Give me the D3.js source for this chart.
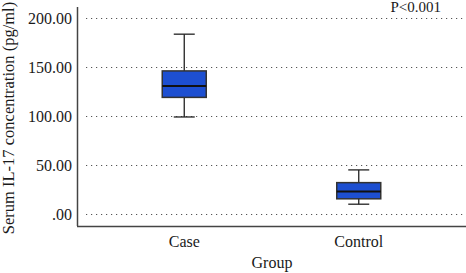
<!DOCTYPE html>
<html>
<head>
<meta charset="utf-8">
<script src="https://cdn.jsdelivr.net/npm/d3@7"></script>
<style>
  body { margin: 0; background: #fff; }
  svg text { font-family: "Liberation Serif", "DejaVu Serif", serif; fill: #1a1a1a; }
</style>
</head>
<body>
<div id="chart"></div>
<script>
// box plot of serum IL-17 by group

var groups = ["Case", "Control"];
var whiskerLow = [99, 10];
var q1 = [119, 15.5];
var medians = [130.5, 23];
var q3 = [146, 32];
var whiskerHigh = [183.5, 45];
var yTicks = [0, 50, 100, 150, 200];

var width = 466, height = 273;
var serif = "'Liberation Serif', 'DejaVu Serif', serif";

var svg = d3.select("#chart").append("svg")
    .attr("width", width)
    .attr("height", height);

var y = d3.scaleLinear()
    .domain([0, 200])
    .range([214, 18]);

var x = d3.scaleBand()
    .domain(groups)
    .range([97, 446]);

var boxW = 44, capW = 21;

// gridlines (dotted)
svg.append("g")
    .selectAll("line")
    .data(yTicks)
    .enter()
    .append("line")
    .attr("x1", 86)
    .attr("x2", 463)
    .attr("y1", d => Math.round(y(d)) + 0.5)
    .attr("y2", d => Math.round(y(d)) + 0.5)
    .attr("stroke", "#555")
    .attr("stroke-width", 1.2)
    .attr("stroke-dasharray", "1.2,3.8");

// y axis
var yAxis = d3.axisLeft(y)
    .tickValues(yTicks)
    .tickSize(0)
    .tickPadding(5)
    .tickFormat(d => d === 0 ? ".00" : d3.format(".2f")(d));

svg.append("g")
    .attr("transform", "translate(77,0)")
    .call(yAxis)
    .attr("font-family", null)
    .attr("font-size", null)
    .call(g => g.select(".domain").remove())
    .selectAll("text")
    .style("font-family", serif)
    .style("font-size", "16px")
    .attr("fill", "#1a1a1a");

svg.append("line")
    .attr("x1", 77.5).attr("x2", 77.5)
    .attr("y1", 7).attr("y2", 226)
    .attr("stroke", "#444").attr("stroke-width", 1.5);

svg.append("line")
    .attr("x1", 77).attr("x2", 466)
    .attr("y1", 226.5).attr("y2", 226.5)
    .attr("stroke", "#444").attr("stroke-width", 1.5);

// x axis labels
var xAxis = d3.axisBottom(x).tickSize(0).tickPadding(9);
svg.append("g")
    .attr("transform", "translate(0,227)")
    .call(xAxis)
    .attr("font-family", null)
    .attr("font-size", null)
    .call(g => g.select(".domain").remove())
    .selectAll("text")
    .style("font-family", serif)
    .style("font-size", "16px")
    .attr("fill", "#1a1a1a");

svg.append("text")
    .attr("x", 272)
    .attr("y", 268)
    .attr("text-anchor", "middle")
    .style("font-size", "16px")
    .text("Group");

svg.append("text")
    .attr("transform", "translate(14,118) rotate(-90)")
    .attr("text-anchor", "middle")
    .style("font-size", "16.5px")
    .text("Serum IL-17 concentration (pg/ml)");

svg.append("text")
    .attr("x", 441)
    .attr("y", 12)
    .attr("text-anchor", "end")
    .style("font-size", "15px")
    .text("P<0.001");

// boxes
var box = svg.append("g").attr("class", "boxes")
    .selectAll("g")
    .data(groups)
    .enter()
    .append("g")
    .attr("transform", d => "translate(" + (x(d) + x.bandwidth() / 2) + ",0)");

box.append("line")
    .attr("x1", 0).attr("x2", 0)
    .attr("y1", (d, i) => y(whiskerLow[i]))
    .attr("y2", (d, i) => y(whiskerHigh[i]))
    .attr("stroke", "#222").attr("stroke-width", 1.3);

box.append("line")
    .attr("x1", -capW / 2).attr("x2", capW / 2)
    .attr("y1", (d, i) => y(whiskerHigh[i]))
    .attr("y2", (d, i) => y(whiskerHigh[i]))
    .attr("stroke", "#222").attr("stroke-width", 1.3);

box.append("line")
    .attr("x1", -capW / 2).attr("x2", capW / 2)
    .attr("y1", (d, i) => y(whiskerLow[i]))
    .attr("y2", (d, i) => y(whiskerLow[i]))
    .attr("stroke", "#222").attr("stroke-width", 1.3);

box.append("rect")
    .attr("x", -boxW / 2)
    .attr("width", boxW)
    .attr("y", (d, i) => y(q3[i]))
    .attr("height", (d, i) => y(q1[i]) - y(q3[i]))
    .attr("fill", "#1d4fd1")
    .attr("stroke", "#333")
    .attr("stroke-width", 1.5);

box.append("line")
    .attr("x1", -boxW / 2).attr("x2", boxW / 2)
    .attr("y1", (d, i) => y(medians[i]))
    .attr("y2", (d, i) => y(medians[i]))
    .attr("stroke", "#111").attr("stroke-width", 2);
</script>
</body>
</html>
